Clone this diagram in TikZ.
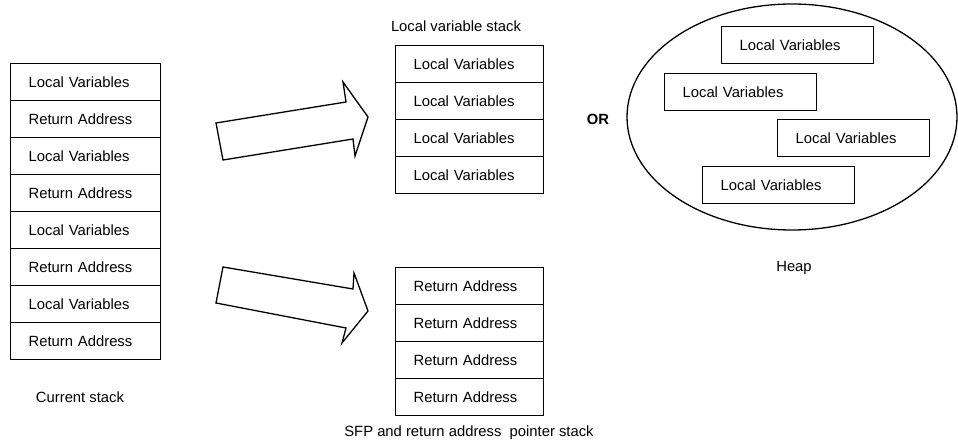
\documentclass[tikz,border=0pt]{standalone}
\usepackage{fontspec}
\setmainfont{Liberation Sans}
\usepackage{tikz}
\usetikzlibrary{calc}

\begin{document}
\begin{tikzpicture}[x=1pt,y=-1pt,
	font=\fontsize{14.8}{17}\selectfont,
	cell/.style={draw, line width=1.3pt, anchor=north west, minimum height=37pt,
		text width=114pt, inner xsep=18pt, inner ysep=0pt, align=left},
	caption/.style={inner sep=0pt},
	blockarrow/.style={draw, line width=1.3pt, line join=miter}]

	% ---- parameters

	\def\rowh{37}

	\useasboundingbox (0,0) rectangle (958,443);

	% ---- current stack

	\foreach \i/\txt in {1/Local Variables,2/Return Address,3/Local Variables,4/Return Address,
		5/Local Variables,6/Return Address,7/Local Variables,8/Return Address} {
		\node[cell] (cur\i) at (10,{63+\rowh*(\i-1)}) {\txt};
	}
	\node[caption] (curlabel) at (80,397) {Current stack};

	% ---- local variable stack

	\foreach \i in {1,...,4} {
		\node[cell, text width=112pt] (loc\i) at (395,{45+\rowh*(\i-1)}) {Local Variables};
	}
	\node[caption] (loclabel) at (456,26) {Local variable stack};

	% ---- return address stack

	\foreach \i in {1,...,4} {
		\node[cell, text width=112pt] (ret\i) at (395,{267+\rowh*(\i-1)}) {Return Address};
	}
	\node[caption] (retlabel) at (469,433) {SFP and return address\ \ pointer stack};

	% ---- arrows

	\draw[blockarrow] (216,123) -- (346,102) -- (343,82) -- (368,117)
		-- (355,156) -- (353,139) -- (223,160) -- cycle;
	\draw[blockarrow] (223,267) -- (353,289) -- (354,273) -- (368,311)
		-- (342,343) -- (346,328) -- (216,303) -- cycle;

	\node[caption, font=\fontsize{14.8}{17}\selectfont\bfseries] (or) at (598,119) {OR};

	% ---- heap

	\coordinate (H) at (792,117);
	\draw[line width=1.3pt] (H) ellipse [x radius=165pt, y radius=113pt];

	\node[cell, text width=116pt] (heap1) at (721,26) {Local Variables};
	\node[cell, text width=116pt] (heap2) at (664,73) {Local Variables};
	\node[cell, text width=116pt] (heap3) at (777,119) {Local Variables};
	\node[cell, text width=116pt] (heap4) at (702,166) {Local Variables};

	\node[caption] (heaplabel) at (794,268) {Heap};

\end{tikzpicture}
\end{document}
